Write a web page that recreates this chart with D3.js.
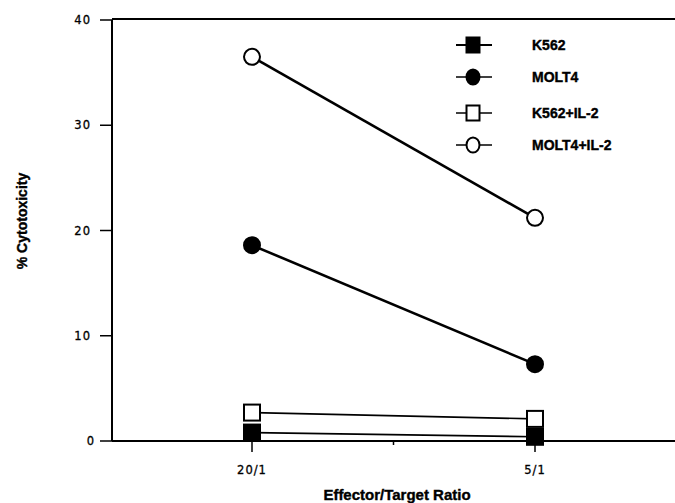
<!DOCTYPE html>
<html>
<head>
<meta charset="utf-8">
<script src="https://cdn.jsdelivr.net/npm/d3@7"></script>
<style>
  body { margin: 0; background: #fff; }
  .tick-label { font-family: "DejaVu Sans", sans-serif; font-size: 11.5px; letter-spacing: 1px; fill: #000; stroke: #000; stroke-width: 0.3; }
  .title { font-family: "Liberation Sans", Arial, sans-serif; font-weight: bold; fill: #000; stroke: #000; stroke-width: 0.4; }
</style>
</head>
<body>
<svg id="chart" width="675" height="503"></svg>
<script>
// Effector/Target ratio vs % cytotoxicity
const ratios = ["20/1", "5/1"];
const yTicks = [0, 10, 20, 30, 40];

const seriesNames = ["K562", "MOLT4", "K562+IL-2", "MOLT4+IL-2"];
const k562 = [0.8, 0.4];
const molt4 = [18.6, 7.3];
const k562IL2 = [2.7, 2.1];
const molt4IL2 = [36.5, 21.2];

const series = [
  { name: seriesNames[0], values: k562, shape: "square", filled: true, lw: 1.6 },
  { name: seriesNames[1], values: molt4, shape: "circle", filled: true, lw: 2.6 },
  { name: seriesNames[2], values: k562IL2, shape: "square", filled: false, lw: 1.6 },
  { name: seriesNames[3], values: molt4IL2, shape: "circle", filled: false, lw: 2.6 },
];

const svg = d3.select("#chart");

const plot = { left: 112, right: 675, top: 20, bottom: 441 };

const x = d3.scaleLinear().domain([0, 1]).range([252, 535]);
const y = d3.scaleLinear().domain([0, 40]).range([plot.bottom, plot.top]);

// Frame: left axis, top line, bottom axis
svg.append("line")
  .attr("x1", plot.left).attr("x2", plot.left)
  .attr("y1", plot.top).attr("y2", plot.bottom)
  .attr("stroke", "#000").attr("stroke-width", 2);
svg.append("line")
  .attr("x1", plot.left).attr("x2", plot.right)
  .attr("y1", plot.top - 1).attr("y2", plot.top - 1)
  .attr("stroke", "#000").attr("stroke-width", 2);
svg.append("line")
  .attr("x1", plot.left).attr("x2", plot.right)
  .attr("y1", plot.bottom).attr("y2", plot.bottom)
  .attr("stroke", "#000").attr("stroke-width", 2);

// Y ticks
const yAxis = svg.append("g");
yTicks.forEach((t) => {
  yAxis.append("line")
    .attr("x1", plot.left - 12).attr("x2", plot.left)
    .attr("y1", y(t)).attr("y2", y(t))
    .attr("stroke", "#000").attr("stroke-width", 1.5);
  yAxis.append("text")
    .attr("class", "tick-label")
    .attr("x", t === 0 ? 95 : 91)
    .attr("y", y(t))
    .attr("dy", "0.35em")
    .attr("text-anchor", "end")
    .text(t);
});

// X ticks (labelled categories plus a minor midpoint tick)
[0, 0.5, 1].forEach((t) => {
  svg.append("line")
    .attr("x1", x(t)).attr("x2", x(t))
    .attr("y1", plot.bottom).attr("y2", plot.bottom + (t === 0.5 ? 4 : 11))
    .attr("stroke", "#000").attr("stroke-width", 1.5);
});
ratios.forEach((r, i) => {
  svg.append("text")
    .attr("class", "tick-label")
    .attr("x", x(i))
    .attr("y", 474)
    .attr("text-anchor", "middle")
    .text(r);
});

// Axis titles
svg.append("text")
  .attr("class", "title")
  .attr("transform", "translate(27,221) rotate(-90)")
  .attr("text-anchor", "middle")
  .attr("font-size", 14)
  .text("% Cytotoxicity");

svg.append("text")
  .attr("class", "title")
  .attr("x", 397)
  .attr("y", 500)
  .attr("text-anchor", "middle")
  .attr("font-size", 15)
  .text("Effector/Target Ratio");

// Lines
const line = d3.line()
  .x((d, i) => x(i))
  .y((d) => y(d));

series.forEach((s) => {
  svg.append("path")
    .datum(s.values)
    .attr("d", line)
    .attr("fill", "none")
    .attr("stroke", "#000")
    .attr("stroke-width", s.lw);
});

function drawMarker(g, s, cx, cy, w, h) {
  if (s.shape === "circle") {
    g.append("ellipse")
      .attr("cx", cx).attr("cy", cy).attr("rx", w / 2).attr("ry", h / 2)
      .attr("fill", s.filled ? "#000" : "#fff")
      .attr("stroke", "#000").attr("stroke-width", 2);
  } else {
    g.append("rect")
      .attr("x", cx - w / 2).attr("y", cy - h / 2)
      .attr("width", w).attr("height", h)
      .attr("fill", s.filled ? "#000" : "#fff")
      .attr("stroke", "#000").attr("stroke-width", 2);
  }
}

// Markers (filled K562 first, open squares on top)
const markers = svg.append("g");
series.forEach((s) => {
  s.values.forEach((v, i) => {
    drawMarker(markers, s, x(i), y(v), 16, 16);
  });
});

// Legend
const legendRows = [45, 77, 113, 145];
const legend = svg.append("g");
series.forEach((s, i) => {
  const ly = legendRows[i];
  legend.append("line")
    .attr("x1", 456).attr("x2", 492)
    .attr("y1", ly).attr("y2", ly)
    .attr("stroke", "#000").attr("stroke-width", i === 0 ? 2 : 1.5);
  drawMarker(legend, s, 473, ly, 13, 15);
  legend.append("text")
    .attr("class", "title")
    .attr("x", 532)
    .attr("y", ly)
    .attr("dy", "0.35em")
    .attr("font-size", 14)
    .text(s.name);
});
</script>
</body>
</html>
